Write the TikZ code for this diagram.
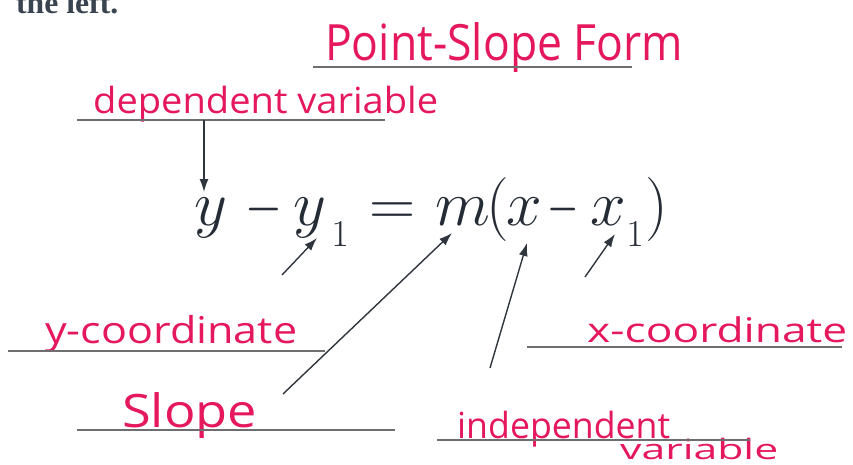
\RequirePackage{fix-cm}
\documentclass[tikz,border=0pt]{standalone}
\usepackage{fontspec}
\usetikzlibrary{arrows.meta}
\newfontfamily\hand{Open Sans}
\newfontfamily\bookserif{Liberation Serif}
\definecolor{ink}{HTML}{E5185C}
\definecolor{eqc}{HTML}{252C35}
\definecolor{rulec}{HTML}{6E6E6E}
\definecolor{arr}{HTML}{30363D}
\definecolor{booktext}{HTML}{3A4450}
\newcommand{\hwbox}[2]{\resizebox{#1}{\height}{#2}}
\begin{document}
\begin{tikzpicture}[x=1pt,y=-1pt,
  hw/.style={anchor=base west,inner sep=0pt,text=ink},
  glyph/.style={anchor=base,inner sep=0pt,text=eqc,font=\fontsize{64}{64}\selectfont},
  subglyph/.style={anchor=base,inner sep=0pt,text=eqc,font=\fontsize{38}{38}\selectfont},
  rulel/.style={draw=rulec,line width=1.8pt},
  ptr/.style={draw=arr,line width=1.4pt,-{Latex[length=13pt,width=9pt]}}]
\useasboundingbox[fill=white] (0,0) rectangle (853,464);

% cropped book text
\node[anchor=base west,inner sep=0pt,text=booktext,font=\bookserif\bfseries\fontsize{31}{31}\selectfont] (book) at (16,13) {\hwbox{102pt}{the left.}};

% title
\node[hw,font=\hand\fontsize{50}{50}\selectfont] (title) at (325,60) {\hwbox{358pt}{Point-Slope Form}};
\draw[rulel] (313,67) coordinate (tl) -- (632,67) coordinate (tr);

% dependent variable
\node[hw,font=\hand\fontsize{36}{36}\selectfont] (dep) at (93,113) {\hwbox{345pt}{dependent variable}};
\draw[rulel] (77,120) coordinate (dl) -- (385,120) coordinate (dr);

% equation glyphs
\node[glyph] (yA) at (211,225) {$y$};
\node[glyph] (mA) at (264,225) {\scalebox{0.74}[1]{$-$}};
\node[glyph] (yB) at (309.5,225) {$y$};
\node[subglyph] (sA) at (340,246) {$1$};
\node[glyph] (eq) at (392.5,225) {$=$};
\node[glyph] (mm) at (462.5,225) {$m$};
\node[glyph] (lp) at (497.5,225) {$($};
\node[glyph] (xA) at (524,225) {$x$};
\node[glyph] (mB) at (563.5,225) {\scalebox{0.63}[1]{$-$}};
\node[glyph] (xB) at (608,225) {$x$};
\node[subglyph] (sB) at (635,246) {$1$};
\node[glyph] (rp) at (657,225) {$)$};

% y-coordinate
\node[hw,font=\hand\fontsize{37}{37}\selectfont] (ycoord) at (45,343) {\hwbox{252pt}{y-coordinate}};
\draw[rulel] (8,351) coordinate (yl) -- (325,351) coordinate (yr);

% slope
\node[hw,font=\hand\fontsize{46}{46}\selectfont] (slope) at (122,427) {\hwbox{135pt}{Slope}};
\draw[rulel] (77,430) coordinate (sl) -- (395,430) coordinate (sr);

% x-coordinate
\node[hw,font=\hand\fontsize{34}{34}\selectfont] (xcoord) at (587,342) {\hwbox{260pt}{x-coordinate}};
\draw[rulel] (527,347) coordinate (xl) -- (842,347) coordinate (xr);

% independent variable
\node[hw,font=\hand\fontsize{36}{36}\selectfont] (indep) at (457,438) {\hwbox{213pt}{independent}};
\node[hw,font=\hand\fontsize{28}{28}\selectfont] (indvar) at (620,459) {\hwbox{158pt}{variable}};
\draw[rulel] (437,440) coordinate (il) -- (750,440) coordinate (ir);

% arrow ends
\coordinate (depTail) at (204,120);
\coordinate (depTip) at (204,192);
\coordinate (ycTail) at (282,275);
\coordinate (ycTip) at (317,238);
\coordinate (slTail) at (283,394);
\coordinate (slTip) at (452,233);
\coordinate (inTail) at (490,368);
\coordinate (inTip) at (527,243);
\coordinate (xcTail) at (585,277);
\coordinate (xcTip) at (615,234);

\draw[ptr] (depTail) -- (depTip);
\draw[ptr] (ycTail) -- (ycTip);
\draw[ptr] (slTail) -- (slTip);
\draw[ptr] (inTail) -- (inTip);
\draw[ptr] (xcTail) -- (xcTip);
\end{tikzpicture}
\end{document}
